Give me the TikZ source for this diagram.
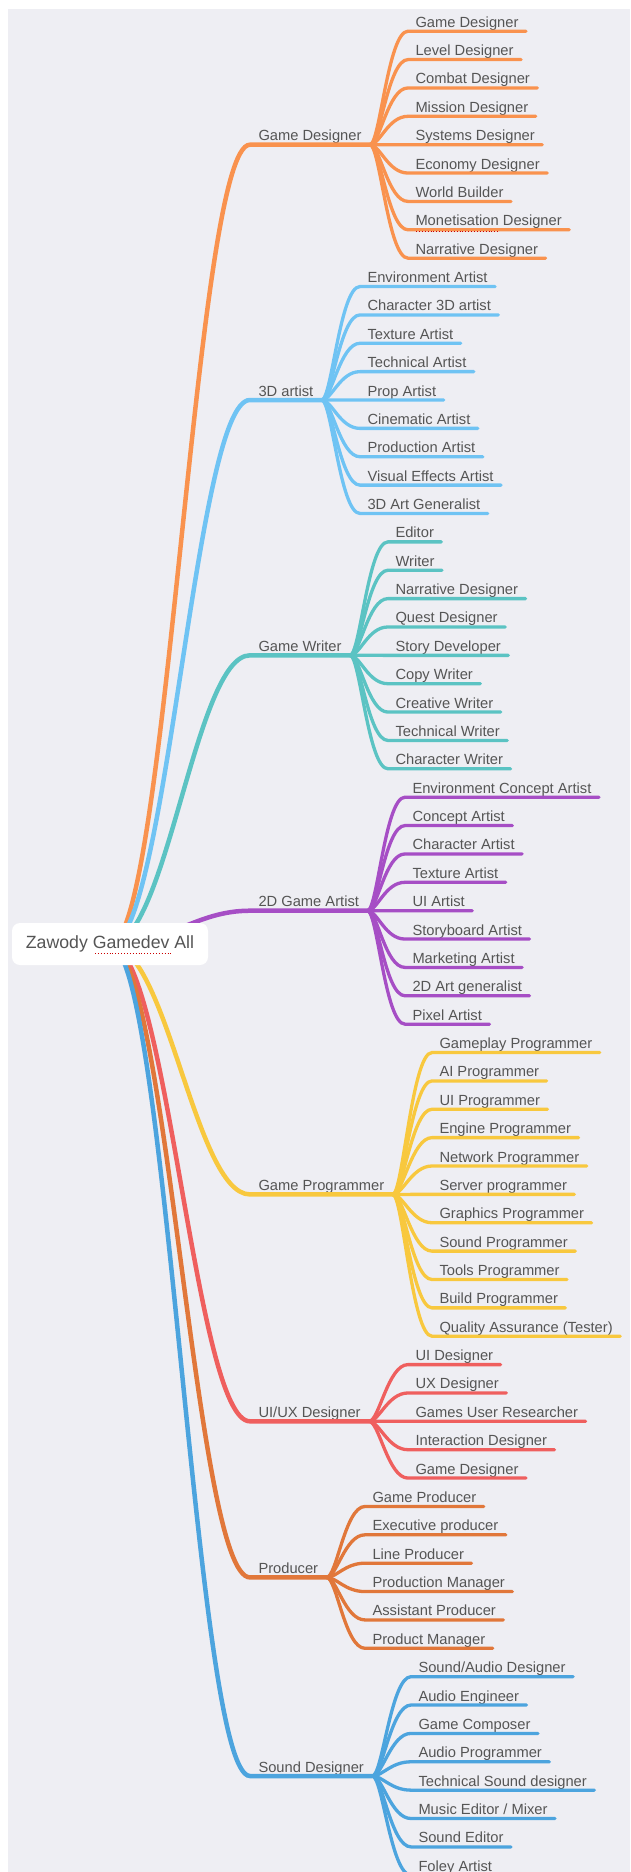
\documentclass[tikz,border=0pt]{standalone}
\usepackage{fontspec}
\setmainfont{Liberation Sans}
\definecolor{bgc}{HTML}{EEEEF3}
\definecolor{txtc}{HTML}{555555}
\definecolor{cGD}{HTML}{F9924E}
\definecolor{cTA}{HTML}{6FC3F3}
\definecolor{cGW}{HTML}{5BC3C3}
\definecolor{cGA}{HTML}{A64EC5}
\definecolor{cGP}{HTML}{F8C83E}
\definecolor{cUX}{HTML}{EF5F5E}
\definecolor{cPR}{HTML}{E1773A}
\definecolor{cSD}{HTML}{4CA4DE}
\tikzset{
  leaf/.style={text=txtc, font=\fontsize{14.7}{17}\selectfont, inner xsep=7.5pt, inner ysep=4pt,
    text depth=0pt, anchor=south west, outer sep=0pt},
  parentlbl/.style={leaf, inner xsep=8.5pt},
  trunk/.style={line width=4.5pt, line cap=round},
  twig/.style={line width=3.3pt, line cap=round},
  rootbox/.style={fill=white, rounded corners=8pt, minimum width=196pt, minimum height=42pt,
    text=txtc, font=\fontsize{17.7}{21}\selectfont, inner sep=0pt},
  spell/.style={draw=red!80!black, line width=0.9pt, dotted}
}
% #1 name, #2 colour, #3 label, #4 parent y, #5 child x, #6 first index, #7 children
\newcommand{\branchgroup}[7]{%
  \node[parentlbl] (#1) at (250,#4) {#3};
  \draw[trunk,#2] (o) .. controls +(57,0) and +(-55,0) .. (#1.south west) -- (#1.south east);
  \foreach \t [count=\k from 0] in {#7} {
    \pgfmathsetmacro{\yy}{31.2+28.37*(#6+\k)}
    \node[leaf] (#1c\k) at (#5,\yy) {\t};
    \draw[twig,#2] (#1.south east) .. controls +(10,0) and +(-20,0) .. (#1c\k.south west) -- (#1c\k.south east);
  }%
}
\begin{document}
\begin{tikzpicture}[x=1pt,y=-1pt]
\useasboundingbox (0,0) rectangle (630,1872);
\fill[bgc] (8,9) rectangle (630,1872);
\coordinate (o) at (110,945);

\branchgroup{gd}{cGD}{Game Designer}{144.7}{408}{0}{Game Designer,Level Designer,Combat Designer,Mission Designer,Systems Designer,Economy Designer,World Builder,Monetisation Designer,Narrative Designer}
\branchgroup{ta}{cTA}{3D artist}{400.0}{360}{9}{Environment Artist,Character 3D artist,Texture Artist,Technical Artist,Prop Artist,Cinematic Artist,Production Artist,Visual Effects Artist,3D Art Generalist}
\branchgroup{gw}{cGW}{Game Writer}{655.3}{388}{18}{Editor,Writer,Narrative Designer,Quest Designer,Story Developer,Copy Writer,Creative Writer,Technical Writer,Character Writer}
\branchgroup{ga}{cGA}{2D Game Artist}{910.7}{405}{27}{Environment Concept Artist,Concept Artist,Character Artist,Texture Artist,UI Artist,Storyboard Artist,Marketing Artist,2D Art generalist,Pixel Artist}
\branchgroup{gp}{cGP}{Game Programmer}{1194.4}{432}{36}{Gameplay Programmer,AI Programmer,UI Programmer,Engine Programmer,Network Programmer,Server programmer,Graphics Programmer,Sound Programmer,Tools Programmer,Build Programmer,Quality Assurance (Tester)}
\branchgroup{ux}{cUX}{UI/UX Designer}{1421.3}{408}{47}{UI Designer,UX Designer,Games User Researcher,Interaction Designer,Game Designer}
\branchgroup{pr}{cPR}{Producer}{1577.4}{365}{52}{Game Producer,Executive producer,Line Producer,Production Manager,Assistant Producer,Product Manager}
\branchgroup{sd}{cSD}{Sound Designer}{1776.0}{411}{58}{Sound/Audio Designer,Audio Engineer,Game Composer,Audio Programmer,Technical Sound designer,Music Editor / Mixer,Sound Editor,Foley Artist}

% spell-check marks
\draw[spell] ([xshift=8pt,yshift=-2pt]gdc7.south west) -- ++(83,0);

\node[rootbox] (root) at (110,944) {Zawody Gamedev All};
\draw[spell] (95,953) -- (172,953);
\end{tikzpicture}
\end{document}
